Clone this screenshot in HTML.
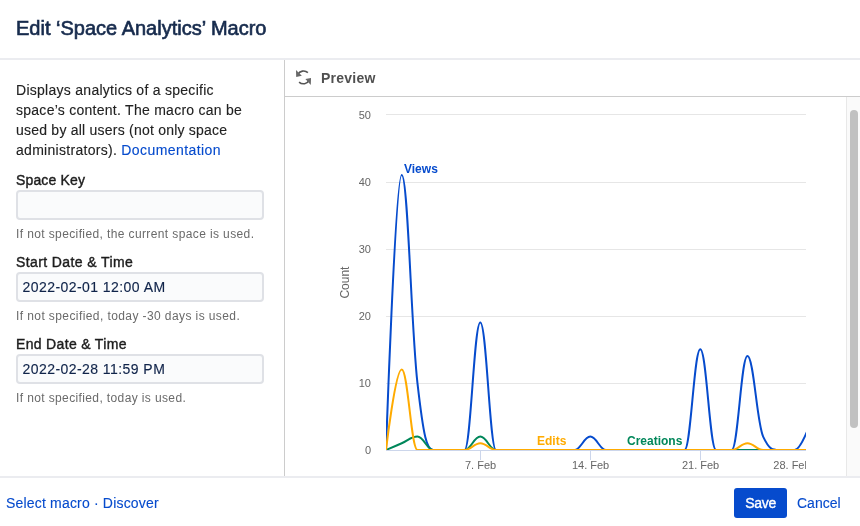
<!DOCTYPE html>
<html><head><meta charset="utf-8"><title>Edit 'Space Analytics' Macro</title>
<style>
*{box-sizing:border-box;margin:0;padding:0}
html,body{width:860px;height:526px;overflow:hidden;background:#fff}
body{font-family:"Liberation Sans",sans-serif;color:#172B4D;position:relative;font-size:14px}
.abs{position:absolute;white-space:nowrap}
#title{left:16px;top:15px;font-size:20px;line-height:26px;font-weight:400;color:#172B4D;letter-spacing:0;-webkit-text-stroke:0.65px #172B4D}
#hline{left:0;top:58px;width:860px;height:2px;background:#EBECF0}
#fline{left:0;top:476px;width:860px;height:2px;background:#EBECF0}
#vline{left:284px;top:60px;width:1px;height:416px;background:#ccc}
#phead{left:285px;top:96px;width:575px;height:1px;background:#ccc}
#ptitle{left:321px;top:69px;font-size:14px;line-height:18px;font-weight:700;color:#505050;letter-spacing:0.233px}
.p{left:16px;font-size:14px;line-height:20px;color:#222;-webkit-text-stroke:0.12px #222}
.p a{-webkit-text-stroke:0.12px #064BCD}
.lbl{left:16px;font-size:14px;line-height:20px;color:#1d1d1d;-webkit-text-stroke:0.4px #1d1d1d}
.inp{left:16px;width:248px;height:30px;border:2px solid #DFE1E6;border-radius:4px;background:#FAFBFC;font-size:14px;line-height:26px;padding-left:4.5px;color:#10244A;letter-spacing:0.44px;-webkit-text-stroke:0.15px #10244A}
.desc{left:16px;font-size:12px;line-height:16px;color:#6a6a6a}
a{color:#064BCD;text-decoration:none}
#foot{left:6px;top:493px;font-size:14px;line-height:20px;color:#064BCD;letter-spacing:0.182px;-webkit-text-stroke:0.12px #064BCD}
#save{left:734px;top:488px;width:53px;height:30px;border-radius:3px;background:#064BCD;color:#fff;font-size:14px;line-height:30px;text-align:center;letter-spacing:-0.25px;padding-left:0.25px;-webkit-text-stroke:0.35px #fff}
#cancel{left:797px;top:493px;font-size:14px;line-height:20px;color:#064BCD;-webkit-text-stroke:0.12px #064BCD}
#track{left:846px;top:97px;width:14px;height:379px;background:#FAFAFA;border-left:1px solid #E8E8E8}
#thumb{left:850px;top:110px;width:8px;height:318px;border-radius:4px;background:#C1C1C1}
svg{position:absolute;left:0;top:0}
svg text{font-family:"Liberation Sans",sans-serif}
</style></head><body>
<div class="abs" id="title">Edit ‘Space Analytics’ Macro</div>
<div class="abs" id="hline"></div>
<div class="abs" id="vline"></div>
<div class="abs" id="phead"></div>
<div class="abs" id="ptitle">Preview</div>

<div class="abs p" style="top:80px;letter-spacing:0.274px">Displays analytics of a specific</div>
<div class="abs p" style="top:100px;letter-spacing:0.266px">space’s content. The macro can be</div>
<div class="abs p" style="top:120px;letter-spacing:0.225px">used by all users (not only space</div>
<div class="abs p" style="top:140px;letter-spacing:0.29px">administrators). <a style="letter-spacing:0.416px">Documentation</a></div>

<div class="abs lbl" style="top:170px;letter-spacing:0.15px">Space Key</div>
<div class="abs inp" style="top:190px"></div>
<div class="abs desc" style="top:226px;letter-spacing:0.384px">If not specified, the current space is used.</div>

<div class="abs lbl" style="top:252px;letter-spacing:0.394px">Start Date &amp; Time</div>
<div class="abs inp" style="top:272px">2022-02-01 12:00 AM</div>
<div class="abs desc" style="top:308px;letter-spacing:0.408px">If not specified, today -30 days is used.</div>

<div class="abs lbl" style="top:334px;letter-spacing:0.329px">End Date &amp; Time</div>
<div class="abs inp" style="top:354px">2022-02-28 11:59 PM</div>
<div class="abs desc" style="top:390px;letter-spacing:0.377px">If not specified, today is used.</div>

<div class="abs" id="track"></div>
<div class="abs" id="thumb"></div>

<svg width="860" height="526" viewBox="0 0 860 526">
<defs><clipPath id="cp"><rect x="386" y="100" width="420" height="350"/></clipPath>
<clipPath id="cx"><rect x="340" y="100" width="466" height="376"/></clipPath></defs>
<g fill="none" stroke="#555" stroke-width="1.6" stroke-linecap="butt">
<path d="M307.9 72.7 A6.4 6.4 0 0 0 297.8 74.6"/>
<path d="M299.1 82.1 A6.4 6.4 0 0 0 309.2 80.2"/>
</g>
<path d="M296.0 70.0 L296.2 77.0 L301.8 75.7 Z" fill="#686868"/>
<path d="M305.4 79.0 L311.0 78.0 L310.8 84.9 Z" fill="#686868"/>
<g stroke="#e6e6e6" stroke-width="1">
<line x1="386" x2="806" y1="114.5" y2="114.5"/>
<line x1="386" x2="806" y1="182.5" y2="182.5"/>
<line x1="386" x2="806" y1="249.5" y2="249.5"/>
<line x1="386" x2="806" y1="316.5" y2="316.5"/>
<line x1="386" x2="806" y1="383.5" y2="383.5"/>
</g>
<g stroke="#ccd6eb" stroke-width="1">
<line x1="386" x2="806" y1="450.5" y2="450.5"/>
<line x1="480.5" x2="480.5" y1="450" y2="460"/>
<line x1="590.5" x2="590.5" y1="450" y2="460"/>
<line x1="700.5" x2="700.5" y1="450" y2="460"/>
</g>
<g font-size="11" fill="#666" text-anchor="end">
<text x="371" y="119">50</text>
<text x="371" y="186">40</text>
<text x="371" y="253">30</text>
<text x="371" y="320">20</text>
<text x="371" y="387">10</text>
<text x="371" y="454">0</text>
</g>
<g font-size="11" fill="#666" text-anchor="middle" clip-path="url(#cx)">
<text x="480.6" y="469">7. Feb</text>
<text x="590.6" y="469">14. Feb</text>
<text x="700.6" y="469">21. Feb</text>
<text x="773.3" y="469" text-anchor="start">28. Feb</text>
</g>
<text x="349" y="282.6" font-size="12" fill="#666" text-anchor="middle" transform="rotate(-90 349 282.6)">Count</text>
<g fill="none" stroke-width="2" stroke-linejoin="round" stroke-linecap="round" clip-path="url(#cp)">
<path stroke="#064BCD" d="M 386.00 450.00 C 386.00 450.00 395.43 174.89 401.71 174.89 C 408.00 174.89 411.14 327.88 417.43 382.90 C 423.71 437.92 426.86 450.00 433.14 450.00 C 439.43 450.00 442.57 450.00 448.86 450.00 C 455.14 450.00 458.29 450.00 464.57 450.00 C 470.86 450.00 474.00 322.51 480.29 322.51 C 486.57 322.51 489.71 450.00 496.00 450.00 C 502.29 450.00 505.43 450.00 511.71 450.00 C 518.00 450.00 521.14 450.00 527.43 450.00 C 533.71 450.00 536.86 450.00 543.14 450.00 C 549.43 450.00 552.57 450.00 558.86 450.00 C 565.14 450.00 568.29 450.00 574.57 450.00 C 580.86 450.00 584.00 436.58 590.29 436.58 C 596.57 436.58 599.71 450.00 606.00 450.00 C 612.29 450.00 615.43 450.00 621.71 450.00 C 628.00 450.00 631.14 450.00 637.43 450.00 C 643.71 450.00 646.86 450.00 653.14 450.00 C 659.43 450.00 662.57 450.00 668.86 450.00 C 675.14 450.00 678.29 450.00 684.57 450.00 C 690.86 450.00 694.00 349.35 700.29 349.35 C 706.57 349.35 709.71 450.00 716.00 450.00 C 722.29 450.00 725.43 450.00 731.71 450.00 C 738.00 450.00 741.14 356.06 747.43 356.06 C 753.71 356.06 756.86 423.16 763.14 436.58 C 769.43 450.00 772.57 450.00 778.86 450.00 C 785.14 450.00 788.29 450.00 794.57 450.00 C 800.86 450.00 810.29 423.16 810.29 423.16"/>
<path stroke="#00875A" d="M 386.00 450.00 C 386.00 450.00 395.43 445.97 401.71 443.29 C 408.00 440.61 411.14 436.58 417.43 436.58 C 423.71 436.58 426.86 450.00 433.14 450.00 C 439.43 450.00 442.57 450.00 448.86 450.00 C 455.14 450.00 458.29 450.00 464.57 450.00 C 470.86 450.00 474.00 436.58 480.29 436.58 C 486.57 436.58 489.71 450.00 496.00 450.00 C 502.29 450.00 505.43 450.00 511.71 450.00 C 518.00 450.00 521.14 450.00 527.43 450.00 C 533.71 450.00 536.86 450.00 543.14 450.00 C 549.43 450.00 552.57 450.00 558.86 450.00 C 565.14 450.00 568.29 450.00 574.57 450.00 C 580.86 450.00 584.00 450.00 590.29 450.00 C 596.57 450.00 599.71 450.00 606.00 450.00 C 612.29 450.00 615.43 450.00 621.71 450.00 C 628.00 450.00 631.14 450.00 637.43 450.00 C 643.71 450.00 646.86 450.00 653.14 450.00 C 659.43 450.00 662.57 450.00 668.86 450.00 C 675.14 450.00 678.29 450.00 684.57 450.00 C 690.86 450.00 694.00 450.00 700.29 450.00 C 706.57 450.00 709.71 450.00 716.00 450.00 C 722.29 450.00 725.43 450.00 731.71 450.00 C 738.00 450.00 741.14 450.00 747.43 450.00 C 753.71 450.00 756.86 450.00 763.14 450.00 C 769.43 450.00 772.57 450.00 778.86 450.00 C 785.14 450.00 788.29 450.00 794.57 450.00 C 800.86 450.00 810.29 450.00 810.29 450.00"/>
<path stroke="#FFAB00" d="M 386.00 450.00 C 386.00 450.00 395.43 369.48 401.71 369.48 C 408.00 369.48 411.14 450.00 417.43 450.00 C 423.71 450.00 426.86 450.00 433.14 450.00 C 439.43 450.00 442.57 450.00 448.86 450.00 C 455.14 450.00 458.29 450.00 464.57 450.00 C 470.86 450.00 474.00 443.29 480.29 443.29 C 486.57 443.29 489.71 450.00 496.00 450.00 C 502.29 450.00 505.43 450.00 511.71 450.00 C 518.00 450.00 521.14 450.00 527.43 450.00 C 533.71 450.00 536.86 450.00 543.14 450.00 C 549.43 450.00 552.57 450.00 558.86 450.00 C 565.14 450.00 568.29 450.00 574.57 450.00 C 580.86 450.00 584.00 450.00 590.29 450.00 C 596.57 450.00 599.71 450.00 606.00 450.00 C 612.29 450.00 615.43 450.00 621.71 450.00 C 628.00 450.00 631.14 450.00 637.43 450.00 C 643.71 450.00 646.86 450.00 653.14 450.00 C 659.43 450.00 662.57 450.00 668.86 450.00 C 675.14 450.00 678.29 450.00 684.57 450.00 C 690.86 450.00 694.00 450.00 700.29 450.00 C 706.57 450.00 709.71 450.00 716.00 450.00 C 722.29 450.00 725.43 450.00 731.71 450.00 C 738.00 450.00 741.14 443.29 747.43 443.29 C 753.71 443.29 756.86 450.00 763.14 450.00 C 769.43 450.00 772.57 450.00 778.86 450.00 C 785.14 450.00 788.29 450.00 794.57 450.00 C 800.86 450.00 810.29 450.00 810.29 450.00"/>
</g>
<g font-size="12" font-weight="700">
<text x="404" y="173" fill="#064BCD">Views</text>
<text x="537" y="445" fill="#FFAB00">Edits</text>
<text x="627" y="445" fill="#00875A">Creations</text>
</g>
</svg>

<div class="abs" id="fline"></div>
<div class="abs" id="foot">Select macro · Discover</div>
<div class="abs" id="save">Save</div>
<div class="abs" id="cancel">Cancel</div>
</body></html>
